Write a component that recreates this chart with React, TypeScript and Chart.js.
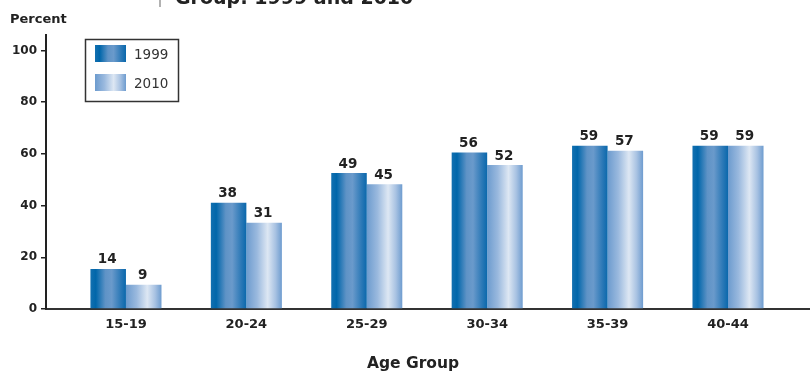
import React, { useEffect, useRef } from "react";
import { Chart, registerables } from "chart.js";

Chart.register(...registerables);

// ---- data ----
const categories = ["15-19", "20-24", "25-29", "30-34", "35-39", "40-44"];
const seriesNames = ["1999", "2010"];
// bar heights as drawn against the y axis
const heights1999 = [15.5, 41.1, 52.6, 60.5, 63.2, 63.2];
const heights2010 = [9.4, 33.4, 48.3, 55.7, 61.2, 63.2];
// printed value labels above the bars
const labels1999 = [14, 38, 49, 56, 59, 59];
const labels2010 = [9, 31, 45, 52, 57, 59];
const yTicks = [0, 20, 40, 60, 80, 100];

const titleText = "Group: 1999 and 2010";
const yAxisLabel = "Percent";
const xAxisLabel = "Age Group";

const FONT = '"DejaVu Sans", Verdana, sans-serif';
const TEXT = "#222222";

const stops: Array<Array<[number, string]>> = [
  [
    [0, "#1370b0"],
    [0.15, "#0066aa"],
    [0.42, "#5f93c6"],
    [0.6, "#6a9acb"],
    [0.85, "#2c79b7"],
    [1, "#0a68ac"],
  ],
  [
    [0, "#6c9bce"],
    [0.3, "#9ab9de"],
    [0.6, "#dde7f3"],
    [0.82, "#a8c2e2"],
    [1, "#6e9ccf"],
  ],
];
const flatColors = ["#2f7ab8", "#a8c2e2"];

function makeGradient(ctx: CanvasRenderingContext2D, x0: number, x1: number, s: Array<[number, string]>) {
  const g = ctx.createLinearGradient(x0, 0, x1, 0);
  s.forEach(([o, c]) => g.addColorStop(o, c));
  return g;
}

const gradientPlugin = {
  id: "barGradients",
  beforeDatasetsDraw(chart: any) {
    const ctx = chart.ctx;
    chart.data.datasets.forEach((_ds: any, di: number) => {
      const meta = chart.getDatasetMeta(di);
      meta.data.forEach((el: any) => {
        const { x, width } = el.getProps(["x", "width"], true);
        const g = makeGradient(ctx, x - width / 2, x + width / 2, stops[di]);
        el.options = { ...el.options, backgroundColor: g };
      });
    });
  },
};

const valueLabelPlugin = {
  id: "valueLabels",
  afterDatasetsDraw(chart: any) {
    const ctx = chart.ctx;
    const lists = [labels1999, labels2010];
    ctx.save();
    ctx.font = `bold 13.5px ${FONT}`;
    ctx.fillStyle = TEXT;
    ctx.textAlign = "center";
    ctx.textBaseline = "alphabetic";
    chart.data.datasets.forEach((_ds: any, di: number) => {
      const meta = chart.getDatasetMeta(di);
      meta.data.forEach((el: any, i: number) => {
        ctx.fillText(String(lists[di][i]), el.x - 1, el.y - 5.5);
      });
    });
    ctx.restore();
  },
};

const decorPlugin = {
  id: "decor",
  afterDraw(chart: any) {
    const ctx = chart.ctx;
    const area = chart.chartArea;
    ctx.save();
    // clipped title at the very top
    ctx.strokeStyle = "#999999";
    ctx.lineWidth = 1.5;
    ctx.beginPath();
    ctx.moveTo(160, 0);
    ctx.lineTo(160, 7);
    ctx.stroke();
    ctx.fillStyle = TEXT;
    ctx.font = `bold 19px ${FONT}`;
    ctx.textAlign = "left";
    ctx.textBaseline = "alphabetic";
    ctx.fillText(titleText, 175, 4);

    // y axis label
    ctx.font = `bold 13px ${FONT}`;
    ctx.fillText(yAxisLabel, 10, 23);

    // x axis title
    ctx.font = `bold 15.5px ${FONT}`;
    ctx.textAlign = "center";
    ctx.fillText(xAxisLabel, (area.left + area.right) / 2 - 15, 368);

    // legend box
    ctx.strokeStyle = "#333333";
    ctx.lineWidth = 1.5;
    ctx.strokeRect(85.5, 39.5, 93, 62);
    const rows = [45, 74];
    ctx.font = `13.5px ${FONT}`;
    ctx.textAlign = "left";
    chart.data.datasets.forEach((ds: any, di: number) => {
      const y = rows[di];
      ctx.fillStyle = makeGradient(ctx, 95, 126, stops[di]);
      ctx.fillRect(95, y, 31, 17);
      ctx.fillStyle = "#333333";
      ctx.fillText(ds.label, 134, y + 14);
    });
    ctx.restore();
  },
};

export default function App() {
  const ref = useRef<HTMLCanvasElement | null>(null);

  useEffect(() => {
    document.body.style.margin = "0";
    const canvas = ref.current;
    if (!canvas) return;
    const chart = new Chart(canvas, {
      type: "bar",
      data: {
        datasets: [
          {
            label: seriesNames[0],
            data: heights1999.map((v, i) => ({ x: i, y: v })),
            backgroundColor: flatColors[0],
            borderWidth: 0,
          },
          {
            label: seriesNames[1],
            data: heights2010.map((v, i) => ({ x: i, y: v })),
            backgroundColor: flatColors[1],
            borderWidth: 0,
          },
        ],
      },
      options: {
        animation: false,
        responsive: false,
        maintainAspectRatio: false,
        datasets: { bar: { categoryPercentage: 0.59, barPercentage: 1.0 } },
        layout: { padding: { left: 0, right: 0, top: 35, bottom: 0 } },
        plugins: {
          legend: { display: false },
          tooltip: { enabled: false },
          title: { display: false },
        },
        scales: {
          x: {
            type: "linear",
            offset: false,
            min: -0.664,
            max: 5.681,
            grid: { display: false, drawTicks: false, tickLength: 0, offset: false },
            border: { display: true, color: "#333333", width: 2 },
            ticks: {
              padding: 8,
              color: TEXT,
              font: { family: FONT, size: 13, weight: "bold" },
              callback: (_v: any, i: number) => categories[i],
              maxRotation: 0,
              autoSkip: false,
            },
            afterBuildTicks: (s: any) => {
              s.ticks = categories.map((_c, i) => ({ value: i }));
            },
            afterFit: (s: any) => {
              s.height = 63;
            },
          },
          y: {
            min: 0,
            max: 106,
            grid: {
              drawOnChartArea: false,
              drawTicks: true,
              tickLength: 5,
              color: "#222222",
              lineWidth: 1.5,
            },
            border: { display: true, color: "#222222", width: 2 },
            ticks: {
              padding: 4,
              color: TEXT,
              font: { family: FONT, size: 12, weight: "bold" },
            },
            afterBuildTicks: (s: any) => {
              s.ticks = yTicks.map((v) => ({ value: v }));
            },
            afterFit: (s: any) => {
              s.width = 46;
            },
          },
        },
      } as any,
      plugins: [gradientPlugin, valueLabelPlugin, decorPlugin],
    });
    return () => chart.destroy();
  }, []);

  return (
    <div style={{ width: 810, height: 372, background: "#ffffff" }}>
      <canvas ref={ref} width={810} height={372} style={{ display: "block" }} />
    </div>
  );
}
